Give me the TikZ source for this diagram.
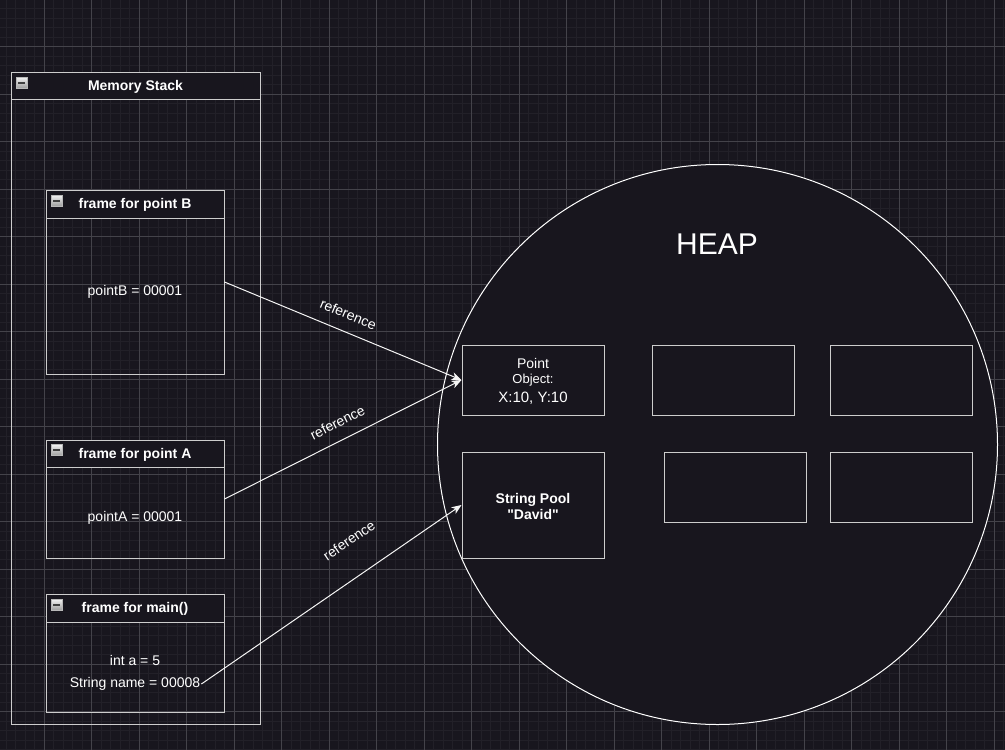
\documentclass[tikz,border=0pt]{standalone}
\usepackage{fontspec}
\setmainfont{Liberation Sans}[Ligatures=TeXOff]
\usetikzlibrary{arrows.meta,calc}
\definecolor{bg}{RGB}{24,22,30}
\definecolor{minorgrid}{RGB}{34,32,40}
\definecolor{majorgrid}{RGB}{68,67,74}
\definecolor{strk}{RGB}{205,205,205}
\begin{document}
\begin{tikzpicture}[x=1pt,y=-1pt,
  every node/.style={text=white, font=\fontsize{14}{16}\selectfont},
  hbox/.style={draw=strk, fill=bg, line width=1pt, minimum width=142pt, minimum height=70pt, inner sep=0pt, align=center},
  frame/.style={draw=strk, line width=1pt, minimum width=178pt, inner sep=0pt},
  fhead/.style={draw=strk, fill=bg, line width=1pt, minimum width=178pt, minimum height=28pt, inner sep=0pt, font=\bfseries\fontsize{14}{16}\selectfont},
  icon/.style={minimum size=11pt, inner sep=0pt, draw=gray!55, top color=white!90!gray, bottom color=gray!75,
    path picture={\fill[black!75] ([xshift=2pt,yshift=1pt]path picture bounding box.west) rectangle ([xshift=-2pt,yshift=-1pt]path picture bounding box.east);}},
  conn/.style={draw=white!92!gray, line width=1pt, -{Stealth[length=10pt,width=8pt,inset=3pt]}},
  lbl/.style={inner sep=0pt, sloped, font=\fontsize{14}{16}\selectfont},
  minorline/.style={draw=minorgrid, line width=1pt},
  majorline/.style={draw=majorgrid, line width=1pt}
]
% background and grid
\fill[bg] (0,0) rectangle (1005,750);
\useasboundingbox (0,0) rectangle (1005,750);
\foreach \i in {0,...,106} \draw[minorline] ({-3.2+9.5*\i},0) -- ++(0,750);
\foreach \j in {0,...,79} \draw[minorline] (0,{-0.8+9.5*\j}) -- ++(1005,0);
\foreach \i in {1,...,21} \draw[majorline] ({-3.2+47.5*\i},0) -- ++(0,750);
\foreach \j in {1,...,15} \draw[majorline] (0,{-0.8+47.5*\j}) -- ++(1005,0);

% Memory stack
\node[draw=strk, line width=1pt, minimum width=249pt, minimum height=652pt, inner sep=0pt] (ms) at (135.5,398) {};
\node[draw=strk, fill=bg, line width=1pt, minimum width=249pt, minimum height=27pt, inner sep=0pt] (msh) at (135.5,85.5) {};
\node[font=\bfseries\fontsize{14}{16}\selectfont] (msht) at (135.5,86.5) {Memory Stack};
\node[icon] (msi) at (21.5,82.5) {};

% frame for point B
\node[frame, minimum height=184pt] (fB) at (135,282) {};
\node[fhead] (fBh) at (135,204) {};
\node[font=\bfseries\fontsize{14}{16}\selectfont] (fBt) at (135,205) {frame for point B};
\node[icon] (fBi) at (56.5,200.5) {};
\node (tB) at (135,292) {pointB = 00001};

% frame for point A
\node[frame, minimum height=118pt] (fA) at (135,499) {};
\node[fhead, minimum height=27pt] (fAh) at (135,453.5) {};
\node[font=\bfseries\fontsize{14}{16}\selectfont] (fAt) at (135,454.5) {frame for point A};
\node[icon] (fAi) at (56.5,450) {};
\node (tA) at (135,518) {pointA = 00001};

% frame for main
\node[frame, minimum height=118pt] (fM) at (135,653) {};
\node[fhead] (fMh) at (135,608) {};
\node[font=\bfseries\fontsize{14}{16}\selectfont] (fMt) at (135,609) {frame for main()};
\node[icon] (fMi) at (56.5,604.5) {};
\node (mA) at (135,660) {int a = 5};
\node[inner sep=1pt] (mS) at (135,684) {String name = 00008};

% Heap
\node[circle, draw=white, fill=bg, line width=1pt, minimum size=560pt, inner sep=0pt] (heap) at (717.5,444.5) {};
\node[font=\fontsize{30}{34}\selectfont] (heapt) at (717,244) {HEAP};

\node[hbox] (pt) at (533,380) {};
\node (pt1) at (533,363) {Point};
\node[font=\fontsize{13}{15}\selectfont] (pt2) at (533,380.5) {Object:};
\node[font=\fontsize{15}{17}\selectfont] (pt3) at (533,398.5) {X:10, Y:10};
\node[hbox] (b2) at (723,380) {};
\node[hbox] (b3) at (901,380) {};
\node[hbox, minimum height=106pt] (sp) at (533,505) {};
\node[font=\bfseries\fontsize{14}{16.5}\selectfont, align=center] (spt) at (533,506.5) {String Pool\\"David"};
\node[hbox] (b5) at (735,487) {};
\node[hbox] (b6) at (901,487) {};

% connectors
\draw[conn] (fB.east) -- node[lbl, pos=0.494, above=12pt] {reference} (pt.west);
\draw[conn] (fA.east) -- node[lbl, pos=0.51, above=12pt] {reference} (pt.west);
\draw[conn] (mS.east) -- node[lbl, pos=0.643, above=29pt] {reference} (sp.west);
\end{tikzpicture}
\end{document}
